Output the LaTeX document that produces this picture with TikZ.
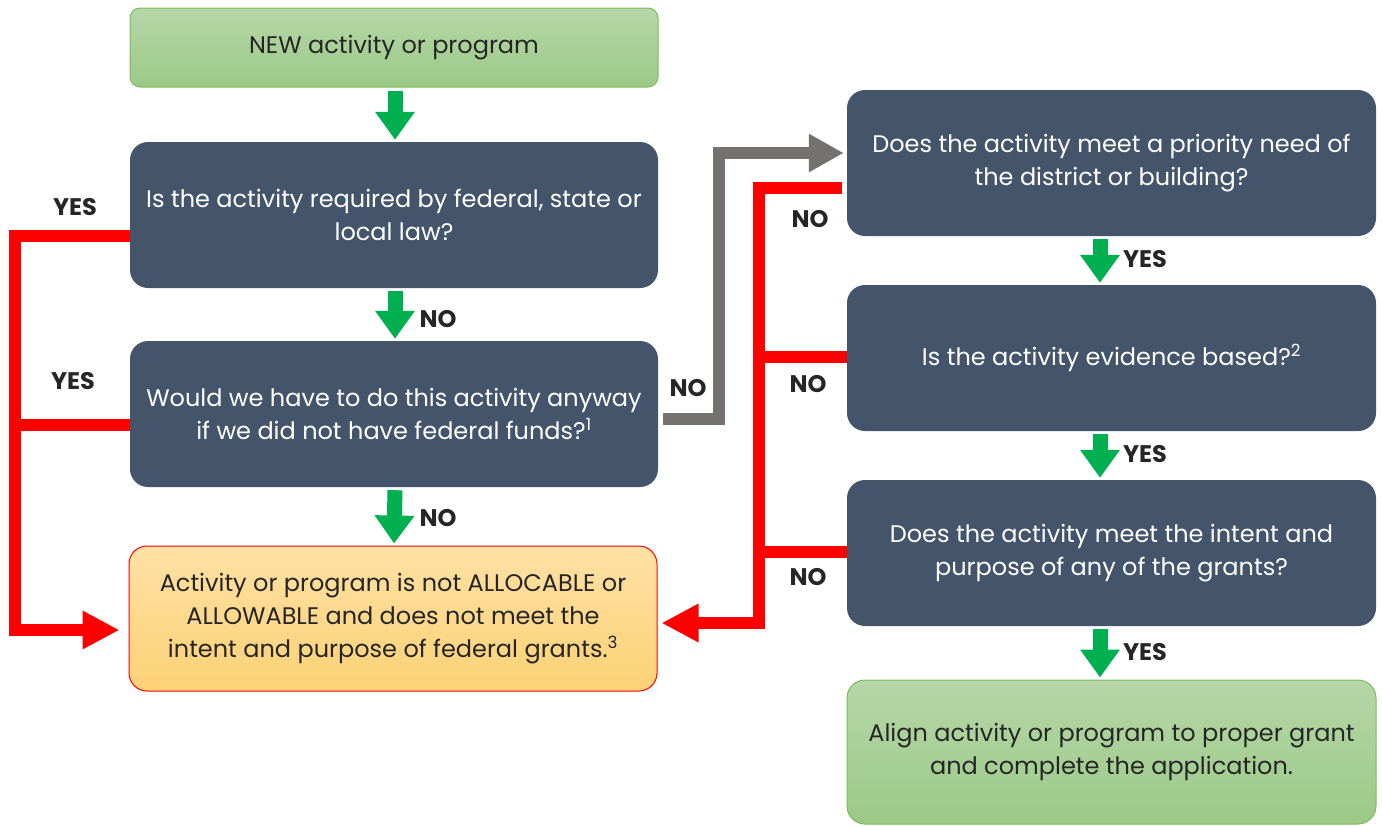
\documentclass[tikz,border=0pt]{standalone}
\usepackage{fontspec}
\setmainfont{Poppins}
\usepackage{xcolor}
\usetikzlibrary{arrows.meta}
\definecolor{slate}{HTML}{44546A}
\definecolor{okgreen}{HTML}{00B050}
\definecolor{dgray}{HTML}{767171}
\definecolor{ink}{HTML}{262626}
\definecolor{gtop}{HTML}{B6D7A8}
\definecolor{gbot}{HTML}{9BC987}
\definecolor{gedge}{HTML}{7FBA5F}
\definecolor{otop}{HTML}{FEE1A4}
\definecolor{obot}{HTML}{FDD176}

\begin{document}
\begin{tikzpicture}
		[x=1pt,y=-1pt,every node/.style={font=\fontsize{24}{33}\selectfont,align=center,inner sep=0pt},
		qbox/.style={rounded corners=18pt,fill=slate,text=white,minimum width=528pt,minimum height=146pt},
		gbox/.style={rounded corners=18pt,draw=gedge,line width=1pt,top color=gtop,bottom color=gbot,text=ink,minimum width=528pt},
		obox/.style={rounded corners=18pt,draw=red,line width=1pt,top color=otop,bottom color=obot,text=ink,minimum width=528pt,minimum height=145pt},
		down/.style={okgreen,line width=15pt,-{Triangle[length=28pt,width=38pt]},shorten <=3pt,shorten >=2pt},
		redline/.style={red,line width=12pt},
		redarrow/.style={redline,-{Triangle[length=37pt,width=36pt]}},
		grayarrow/.style={dgray,line width=12pt,-{Triangle[length=35pt,width=36pt]}},
		lbl/.style={font=\fontsize{24}{28}\bfseries\selectfont,text=ink}]
		\useasboundingbox (0,0) rectangle (1383,825);
		\node[gbox,minimum height=79pt,rounded corners=10pt] (new) at (394,47.5) {NEW activity or program};
		\node[qbox] (q1) at (394,215) {Is the activity required by federal, state or\\local law?};
		\node[qbox] (q2) at (394,414) {Would we have to do this activity anyway\\if we did not have federal funds?\textsuperscript{1}};
		\node[obox] (nal) at (393,618.5) {Activity or program is not ALLOCABLE or\\ALLOWABLE and does not meet the\\intent and purpose of federal grants.\textsuperscript{3}};
		\node[qbox,minimum width=529pt] (r1) at (1111.5,163) {Does the activity meet a priority need of\\the district or building?};
		\node[qbox,minimum width=529pt] (r2) at (1111.5,358) {Is the activity evidence based?\textsuperscript{2}};
		\node[qbox,minimum width=529pt] (r3) at (1111.5,553) {Does the activity meet the intent and\\purpose of any of the grants?};
		\node[gbox,minimum width=529pt,minimum height=144pt] (align) at (1111.5,752) {Align activity or program to proper grant\\and complete the application.};
		
		\foreach \from/\to/\dx in {new/q1/1,q1/q2/1,q2/nal/1,r1/r2/-11.5,r2/r3/-11.5,r3/align/-11.5}
		\draw[down] ([xshift=\dx pt]\from.south) -- ([xshift=\dx pt]\to.north);
		
		\coordinate (l1) at (15,236);
		\coordinate (l2) at (15,425);
		\coordinate (l3) at (15,630);
		\draw[redarrow,shorten >=9pt] (q1.west|-l1) -- (l1) -- (l3) -- (nal.west|-l3);
		\draw[redline] (q2.west|-l2) -- (l2);
		
		\coordinate (m1) at (759,188);
		\coordinate (m2) at (759,357);
		\coordinate (m3) at (759,552);
		\coordinate (m4) at (759,623);
		\draw[redarrow,shorten <=5pt,shorten >=4pt] (r1.west|-m1) -- (m1) -- (m4) -- (nal.east|-m4);
		\draw[redline] (r2.west|-m2) -- (m2);
		\draw[redline] (r3.west|-m3) -- (m3);
		
		\coordinate (g1) at (719,419);
		\coordinate (g2) at (719,153);
		\draw[grayarrow,shorten <=5pt,shorten >=3pt] (q2.east|-g1) -- (g1) -- (g2) -- (r1.west|-g2);
		
		\node[lbl] (yes1) at (75,207) {YES};
		\node[lbl] (yes2) at (73,381) {YES};
		\node[lbl] (no1) at (438,319) {NO};
		\node[lbl] (no2) at (438,518) {NO};
		\node[lbl] (no3) at (688,388) {NO};
		\node[lbl] (no4) at (810,219) {NO};
		\node[lbl] (no5) at (808,384) {NO};
		\node[lbl] (no6) at (808,577) {NO};
		\node[lbl] (yes3) at (1145,259) {YES};
		\node[lbl] (yes4) at (1145,454) {YES};
		\node[lbl] (yes5) at (1145,652) {YES};
		\end{tikzpicture}
\end{document}
